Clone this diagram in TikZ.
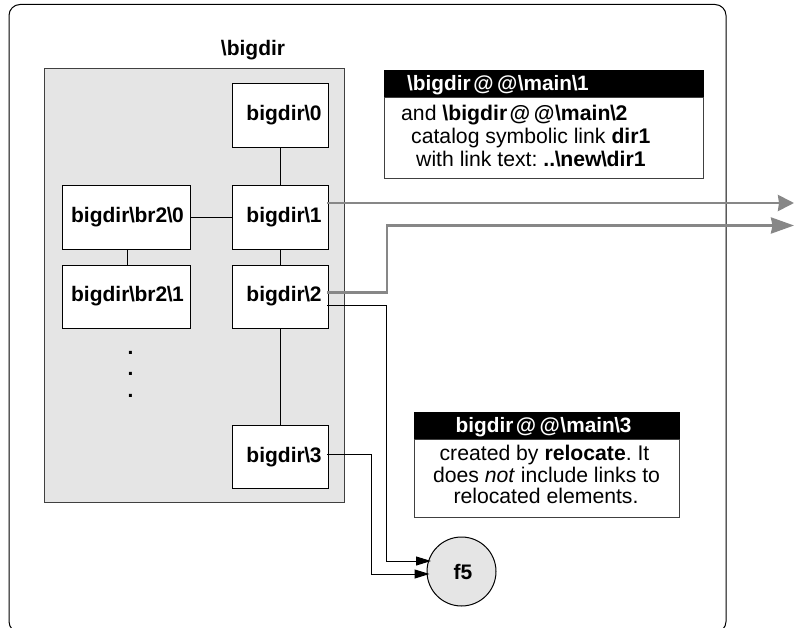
\documentclass[tikz,border=0pt]{standalone}
\usepackage{fontspec}
\setmainfont{Liberation Sans}
\usetikzlibrary{arrows.meta}
\definecolor{panelgray}{gray}{0.9}
\definecolor{linkgray}{gray}{0.53}
\newcommand{\atat}{\kern2.5pt@\kern3.5pt@\kern0.5pt}
\newcommand{\bsl}{\kern-0.4pt\textbackslash\kern-0.4pt}
\frenchspacing
\tikzset{
  x=1pt,y=1pt,
  dirbox/.style={draw=black,line width=1pt,fill=white,inner sep=0pt,font=\fontsize{21}{24}\selectfont\bfseries},
  txt/.style={inner sep=0pt,anchor=base west,font=\fontsize{21.2}{24}\selectfont},
  head/.style={txt,text=white,font=\fontsize{20.8}{24}\selectfont\bfseries},
  boldtxt/.style={inner sep=0pt,font=\fontsize{21}{24}\selectfont\bfseries},
  thin line/.style={draw=black,line width=1pt,line join=miter},
  thin arrow/.style={thin line,-{Triangle[length=15pt,width=9pt]}},
  gray arrow/.style={draw=linkgray,line width=2.8pt,line join=miter},
}
\begin{document}
\begin{tikzpicture}
\useasboundingbox (0,0) rectangle (794,-628);
\fill[white] (0,0) rectangle (794,-628);
% frame
\node[draw=black,line width=1pt,rounded corners=11pt,minimum width=717pt,minimum height=628pt,inner sep=0pt] (frame) at (367.5,-318.5) {};
% panel
\node[draw=black!75,line width=1pt,fill=panelgray,minimum width=300pt,minimum height=433pt,inner sep=0pt] (panel) at (194,-285.5) {};
\node[boldtxt,anchor=base] (title) at (253,-56) {\textbackslash bigdir};
% boxes
\node[dirbox,minimum width=96pt,minimum height=64pt] (b0) at (280,-115.2) {\hspace*{8pt}bigdir\bsl 0};
\node[dirbox,minimum width=96pt,minimum height=63pt] (b1) at (280,-217.5) {\hspace*{8pt}bigdir\bsl 1};
\node[dirbox,minimum width=96pt,minimum height=63pt] (b2) at (280,-296.5) {\hspace*{8pt}bigdir\bsl 2};
\node[dirbox,minimum width=96pt,minimum height=63pt] (b3) at (280,-456.7) {\hspace*{8pt}bigdir\bsl 3};
\node[dirbox,minimum width=128pt,minimum height=63pt] (r0) at (126,-217.5) {\hspace*{3pt}bigdir\bsl br2\bsl 0};
\node[dirbox,minimum width=128pt,minimum height=63pt] (r1) at (126,-296.5) {\hspace*{3pt}bigdir\bsl br2\bsl 1};
\draw[thin line] (b0) -- (b1);
\draw[thin line] (b1) -- (b2);
\draw[thin line] (b2) -- (b3);
\draw[thin line] (r0) -- (b1);
\draw[thin line] ([xshift=1.5pt]r0.south) -- ([xshift=1.5pt]r1.north);
% dots
\node[boldtxt] (d1) at (130.5,-352.5) {.};
\node[boldtxt] (d2) at (130.5,-373.5) {.};
\node[boldtxt] (d3) at (130.5,-395.5) {.};
% info box 1
\node[draw=black,fill=black,minimum width=319pt,minimum height=28pt,inner sep=0pt] (h1) at (544,-84) {};
\node[draw=black!75,line width=1pt,fill=white,minimum width=319pt,minimum height=81pt,inner sep=0pt] (i1) at (544,-138.5) {};
\node[head] (h1t) at (407,-91) {\textbackslash bigdir\atat\textbackslash main\bsl 1};
\node[txt] (l1) at (401,-121) {and \textbf{\textbackslash bigdir\atat\textbackslash main\bsl 2}};
\node[txt] (l2) at (411,-144) {catalog symbolic link \textbf{dir1}};
\node[txt] (l3) at (416,-166.5) {with link text: \textbf{..\bsl new\bsl dir1}};
% info box 2
\node[draw=black,fill=black,minimum width=265pt,minimum height=27pt,inner sep=0pt] (h2) at (547,-425.5) {};
\node[draw=black!75,line width=1pt,fill=white,minimum width=265pt,minimum height=78pt,inner sep=0pt] (i2) at (547,-478) {};
\node[head,anchor=base] (h2t) at (543.5,-432) {bigdir\atat\textbackslash main\bsl 3};
\node[txt,anchor=base] (m1) at (544.5,-460.7) {created by \textbf{relocate}. It};
\node[txt,anchor=base] (m2) at (546.5,-482) {does \textit{not} include links to};
\node[txt,anchor=base] (m3) at (546,-503) {relocated elements.};
% circle
\node[circle,draw=black,line width=1pt,fill=panelgray,minimum size=69pt,inner sep=0pt,font=\fontsize{21}{24}\selectfont\bfseries] (f5) at (461.5,-571.5) {\hspace*{3pt}f5};
% free ends
\coordinate (t1) at (794,-203);
\coordinate (t2) at (794,-225.5);
% gray links
\draw[gray arrow,-{Stealth[length=16pt,width=16pt,inset=1pt]}] ([xshift=-1.5pt]b1.east |- t1) -- (t1);
\draw[gray arrow,-{Stealth[length=23pt,width=16pt,inset=1.5pt]}] ([xshift=-1.5pt,yshift=4.2pt]b2.east) -| (387,-225.5) -- (t2);
% thin links
\draw[thin arrow] ([xshift=-1.5pt,yshift=-8.5pt]b2.east) -| (386.7,-561) -- ([xshift=4.5pt]f5.west |- 0,-561);
\draw[thin arrow] ([xshift=-1.5pt,yshift=2.4pt]b3.east) -| (371,-574) -- ([xshift=3pt]f5.west |- 0,-574);
\end{tikzpicture}
\end{document}
